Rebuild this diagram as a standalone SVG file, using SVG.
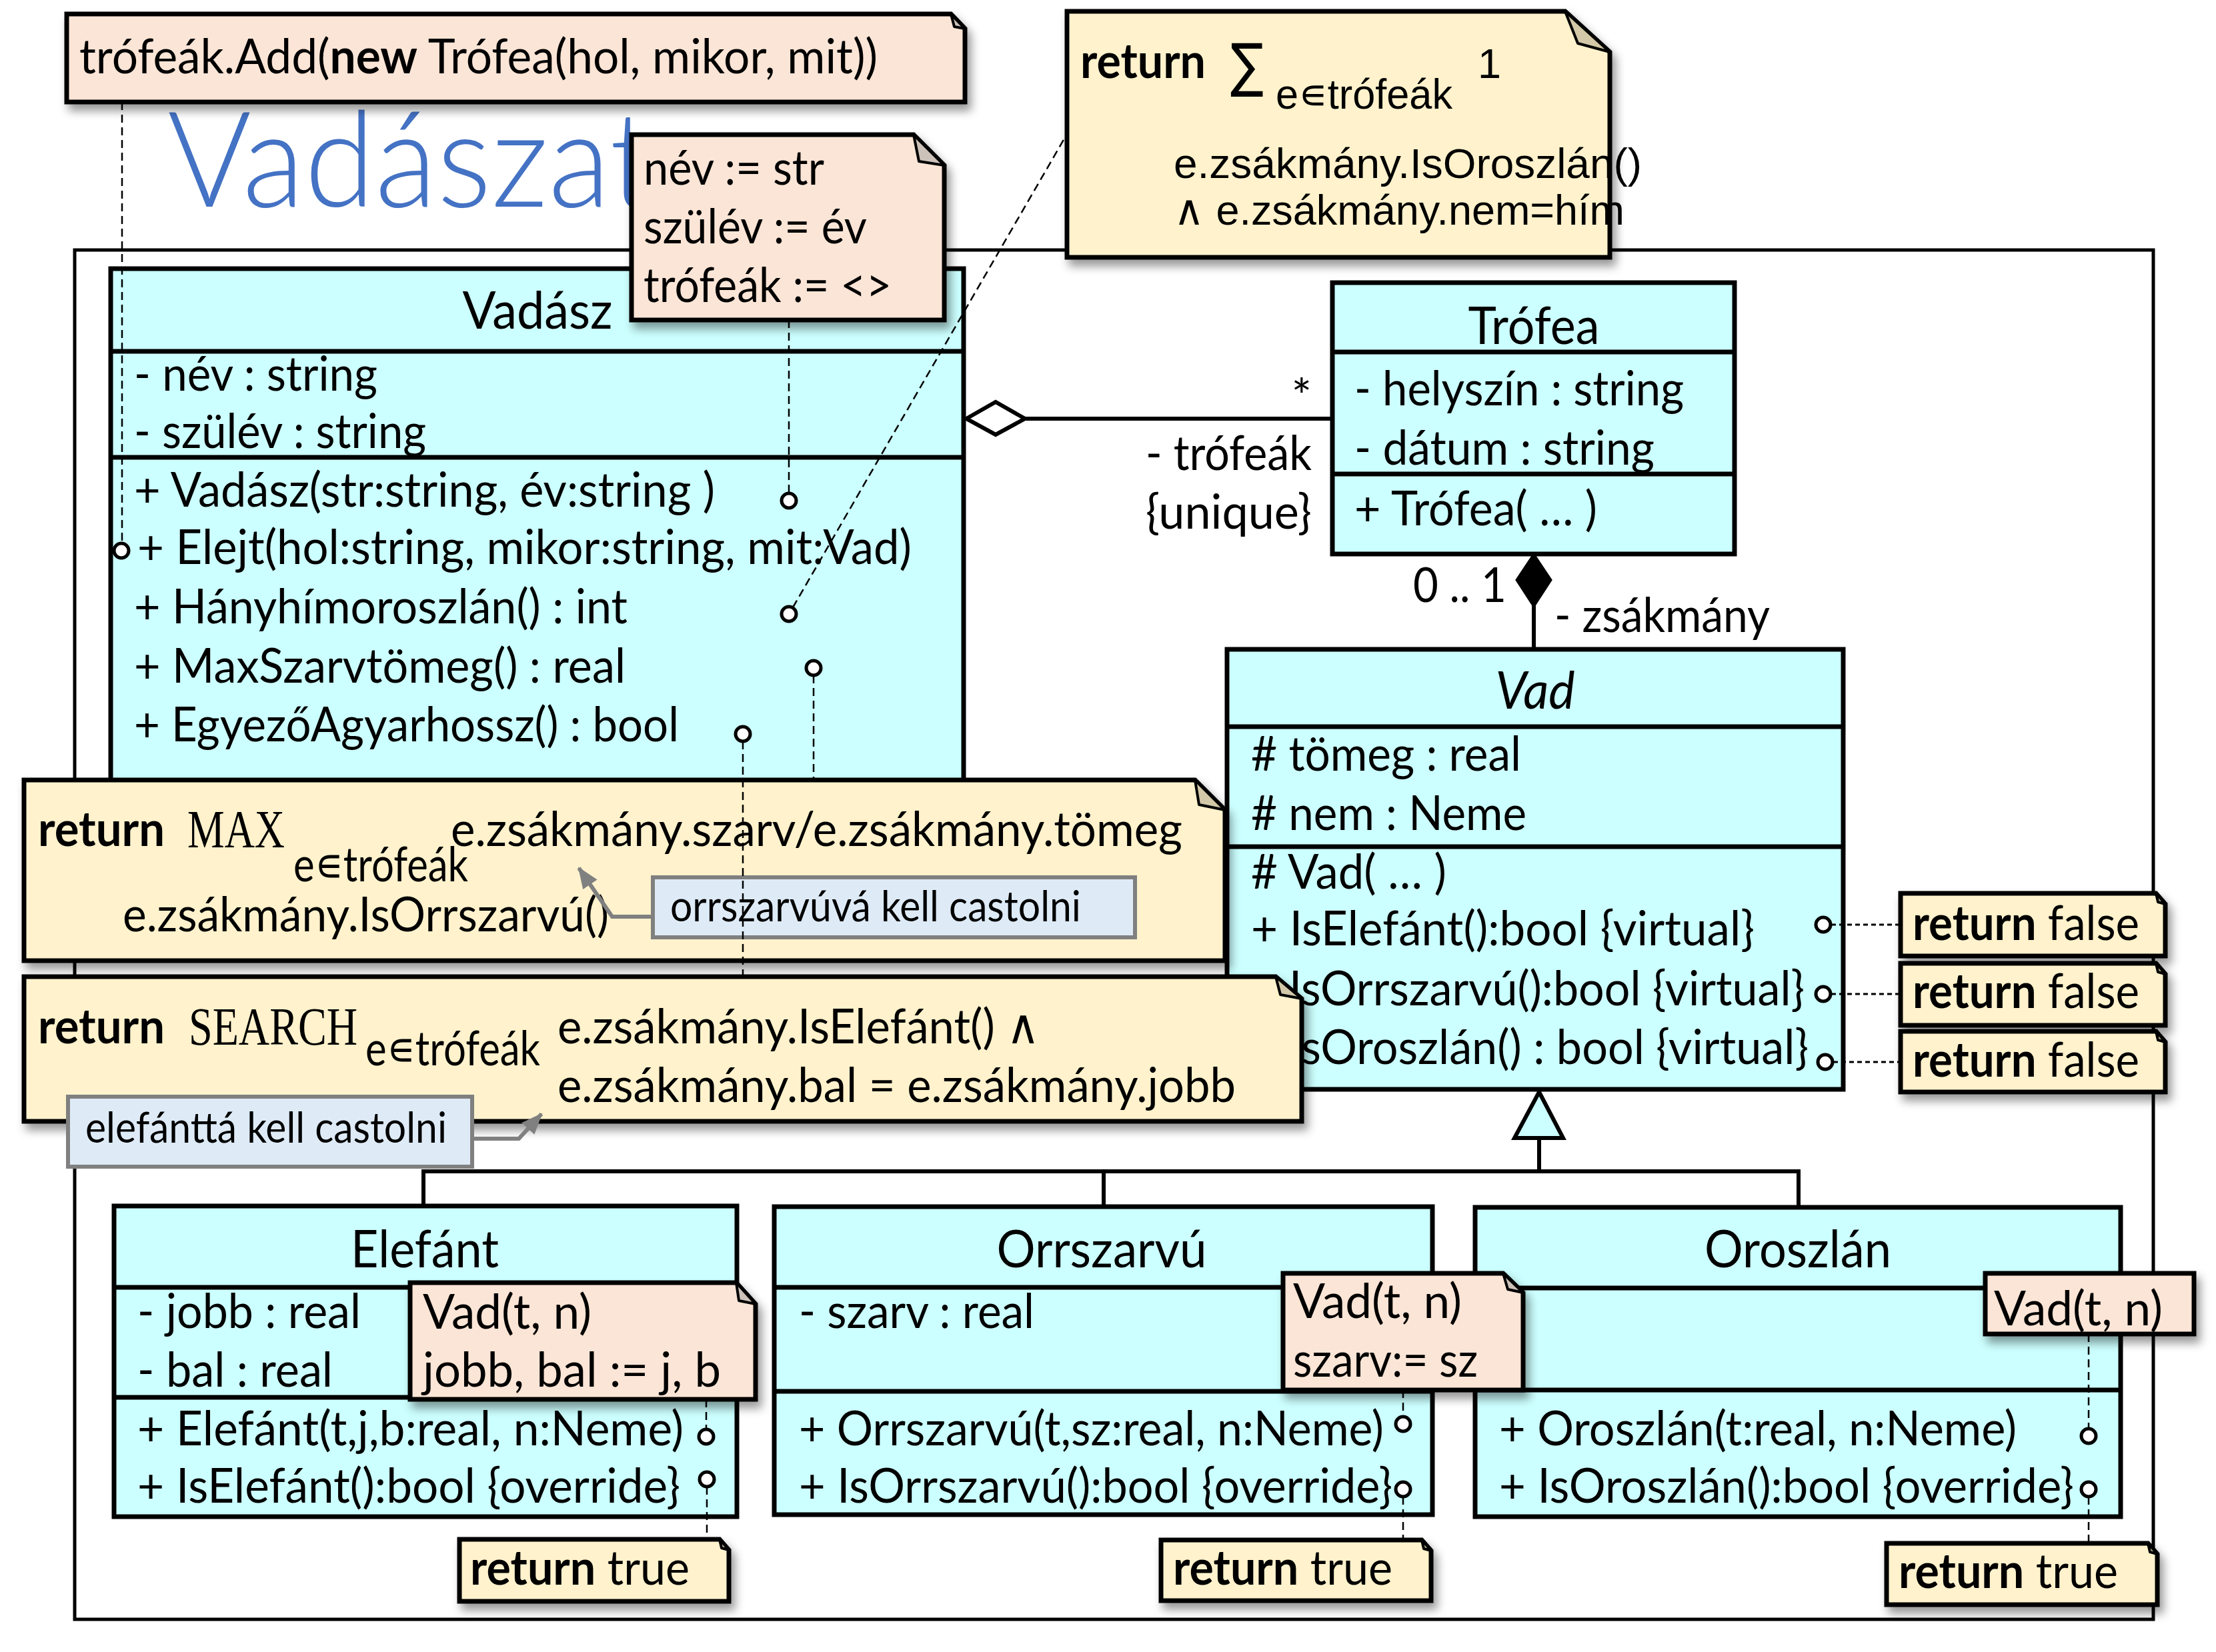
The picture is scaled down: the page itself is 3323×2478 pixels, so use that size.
<svg xmlns="http://www.w3.org/2000/svg" width="3323" height="2478" viewBox="0 0 3323 2478">
<defs>
<style>
.cls{fill:#CCFFFF;stroke:#000;stroke-width:7}
.sep{stroke:#000;stroke-width:7}
.peach{fill:#FBE5D6;stroke:#000;stroke-width:7;stroke-linejoin:miter}
.yel{fill:#FFF2CC;stroke:#000;stroke-width:7;stroke-linejoin:miter}
.foldp{fill:#CDC2BA;stroke:#000;stroke-width:4;stroke-linejoin:round}
.foldy{fill:#D3C8A7;stroke:#000;stroke-width:4;stroke-linejoin:round}
.callout{fill:#DEEBF7;stroke:#808080;stroke-width:6}
.t{font-family:Lato,"Open Sans","Liberation Sans",sans-serif;font-size:72px;fill:#000}
.h{font-family:Lato,"Open Sans","Liberation Sans",sans-serif;font-size:78px;fill:#000}
.c63{font-family:Lato,"Open Sans","Liberation Sans",sans-serif;font-size:63px;fill:#000}
.b{font-weight:bold}
.ar{font-family:"Liberation Sans",Arial,sans-serif;font-size:63px;fill:#000}
.sr{font-family:"Liberation Serif","Times New Roman",serif;font-size:80px;fill:#000}
.dash{fill:none;stroke:#000;stroke-width:2.5;stroke-dasharray:12 7}
.dot{fill:none;stroke:#000;stroke-width:3;stroke-dasharray:7 5}
.pin{fill:#fff;stroke:#000;stroke-width:5}
.ln{fill:none;stroke:#000;stroke-width:6}
.garrow{fill:none;stroke:#808080;stroke-width:6}
.sh{filter:url(#sh)}
</style>
<filter id="sh" x="-10%" y="-10%" width="130%" height="150%">
<feDropShadow dx="6" dy="10" stdDeviation="7" flood-color="#000" flood-opacity="0.4"/>
</filter>
<marker id="ga" markerUnits="userSpaceOnUse" markerWidth="32" markerHeight="26" viewBox="0 0 32 26" refX="30" refY="13" orient="auto">
<path d="M0,0 L32,13 L0,26 Z" fill="#808080"/>
</marker>
</defs>
<rect width="3323" height="2478" fill="#fff"/>

<!-- frame -->
<rect id="frame" x="112" y="375" width="3117" height="2054" fill="none" stroke="#000" stroke-width="5"/>

<text id="title" x="251" y="310" font-family="Lato,'Open Sans','Liberation Sans',sans-serif" font-size="199" font-weight="300" fill="#4472C4" textLength="729" lengthAdjust="spacingAndGlyphs">Vadászat</text>

<!-- classes -->
<g id="class-vadasz">
<rect class="cls" x="166" y="403" width="1279" height="800"/>
<line class="sep" x1="166" y1="527" x2="1445" y2="527"/>
<line class="sep" x1="166" y1="686" x2="1445" y2="686"/>
<text class="h" x="806" y="493" text-anchor="middle" textLength="225" lengthAdjust="spacingAndGlyphs">Vadász</text>
<text class="t" x="201" y="586" textLength="365" lengthAdjust="spacingAndGlyphs">- név : string</text>
<text class="t" x="201" y="672" textLength="438" lengthAdjust="spacingAndGlyphs">- szülév : string</text>
<text class="t" x="201" y="760" textLength="871" lengthAdjust="spacingAndGlyphs">+ Vadász(str:string, év:string )</text>
<text class="t" x="206" y="846" textLength="1161" lengthAdjust="spacingAndGlyphs">+ Elejt(hol:string, mikor:string, mit:Vad)</text>
<text class="t" x="201" y="935" textLength="740" lengthAdjust="spacingAndGlyphs">+ Hányhímoroszlán() : int</text>
<text class="t" x="201" y="1024" textLength="737" lengthAdjust="spacingAndGlyphs">+ MaxSzarvtömeg() : real</text>
<text class="t" x="201" y="1112" textLength="817" lengthAdjust="spacingAndGlyphs">+ EgyezőAgyarhossz() : bool</text>
</g>

<g id="class-trofea">
<rect class="cls" x="1998" y="424" width="603" height="407"/>
<line class="sep" x1="1998" y1="528" x2="2601" y2="528"/>
<line class="sep" x1="1998" y1="711" x2="2601" y2="711"/>
<text class="h" x="2300" y="516" text-anchor="middle" textLength="197" lengthAdjust="spacingAndGlyphs">Trófea</text>
<text class="t" x="2031" y="608" textLength="494" lengthAdjust="spacingAndGlyphs">- helyszín : string</text>
<text class="t" x="2031" y="697" textLength="450" lengthAdjust="spacingAndGlyphs">- dátum : string</text>
<text class="t" x="2031" y="788" textLength="364" lengthAdjust="spacingAndGlyphs">+ Trófea( … )</text>
</g>

<g id="class-vad">
<rect class="cls" x="1840" y="974" width="924" height="660"/>
<line class="sep" x1="1840" y1="1090" x2="2764" y2="1090"/>
<line class="sep" x1="1840" y1="1270" x2="2764" y2="1270"/>
<text class="h" x="2302" y="1063" text-anchor="middle" font-style="italic" textLength="119" lengthAdjust="spacingAndGlyphs">Vad</text>
<text class="t" x="1876" y="1156" textLength="405" lengthAdjust="spacingAndGlyphs"># tömeg : real</text>
<text class="t" x="1876" y="1245" textLength="413" lengthAdjust="spacingAndGlyphs"># nem : Neme</text>
<text class="t" x="1876" y="1333" textLength="293" lengthAdjust="spacingAndGlyphs"># Vad( … )</text>
<text class="t" x="1876" y="1418" textLength="755" lengthAdjust="spacingAndGlyphs">+ IsElefánt():bool {virtual}</text>
<text class="t" x="1876" y="1508" textLength="830" lengthAdjust="spacingAndGlyphs">+ IsOrrszarvú():bool {virtual}</text>
<text class="t" x="1876" y="1596" textLength="836" lengthAdjust="spacingAndGlyphs">+ IsOroszlán() : bool {virtual}</text>
</g>

<g id="class-elefant">
<rect class="cls" x="171" y="1809" width="934" height="466"/>
<line class="sep" x1="171" y1="1931" x2="1105" y2="1931"/>
<line class="sep" x1="171" y1="2096" x2="1105" y2="2096"/>
<text class="h" x="637" y="1901" text-anchor="middle" textLength="222" lengthAdjust="spacingAndGlyphs">Elefánt</text>
<text class="t" x="206" y="1992" textLength="335" lengthAdjust="spacingAndGlyphs">- jobb : real</text>
<text class="t" x="206" y="2080" textLength="293" lengthAdjust="spacingAndGlyphs">- bal : real</text>
<text class="t" x="206" y="2168" textLength="819" lengthAdjust="spacingAndGlyphs">+ Elefánt(t,j,b:real, n:Neme)</text>
<text class="t" x="206" y="2254" textLength="814" lengthAdjust="spacingAndGlyphs">+ IsElefánt():bool {override}</text>
</g>

<g id="class-orrszarvu">
<rect class="cls" x="1161" y="1810" width="987" height="462"/>
<line class="sep" x1="1161" y1="1931" x2="2148" y2="1931"/>
<line class="sep" x1="1161" y1="2087" x2="2148" y2="2087"/>
<text class="h" x="1652" y="1901" text-anchor="middle" textLength="315" lengthAdjust="spacingAndGlyphs">Orrszarvú</text>
<text class="t" x="1198" y="1992" textLength="353" lengthAdjust="spacingAndGlyphs">- szarv : real</text>
<text class="t" x="1198" y="2168" textLength="877" lengthAdjust="spacingAndGlyphs">+ Orrszarvú(t,sz:real, n:Neme)</text>
<text class="t" x="1198" y="2254" textLength="890" lengthAdjust="spacingAndGlyphs">+ IsOrrszarvú():bool {override}</text>
</g>

<g id="class-oroszlan">
<rect class="cls" x="2212" y="1811" width="968" height="464"/>
<line class="sep" x1="2212" y1="1932" x2="3180" y2="1932"/>
<line class="sep" x1="2212" y1="2085" x2="3180" y2="2085"/>
<text class="h" x="2696" y="1901" text-anchor="middle" textLength="280" lengthAdjust="spacingAndGlyphs">Oroszlán</text>
<text class="t" x="2248" y="2168" textLength="776" lengthAdjust="spacingAndGlyphs">+ Oroszlán(t:real, n:Neme)</text>
<text class="t" x="2248" y="2254" textLength="862" lengthAdjust="spacingAndGlyphs">+ IsOroszlán():bool {override}</text>
</g>

<!-- MAX note (below connectors) -->
<g id="note-max">
<path class="yel sh" d="M36,1170 H1792 L1837,1215 V1441 H36 Z"/>
<path class="foldy" d="M1792,1170 L1798,1207 L1837,1215 Z"/>
<text class="t b" x="57" y="1269" textLength="190" lengthAdjust="spacingAndGlyphs">return</text>
<text class="sr" x="281" y="1271" textLength="146" lengthAdjust="spacingAndGlyphs">MAX</text>
<text class="t" x="440" y="1322" textLength="262" lengthAdjust="spacingAndGlyphs">e∊trófeák</text>
<text class="t" x="676" y="1269" textLength="1097" lengthAdjust="spacingAndGlyphs">e.zsákmány.szarv/e.zsákmány.tömeg</text>
<text class="t" x="184" y="1397" textLength="729" lengthAdjust="spacingAndGlyphs">e.zsákmány.IsOrrszarvú()</text>
</g>
<g id="callout-orrszarvu">
<rect class="callout" x="979" y="1316" width="723" height="90"/>
<text class="c63" x="1005" y="1382" textLength="616" lengthAdjust="spacingAndGlyphs">orrszarvúvá kell castolni</text>
<polyline class="garrow" points="979,1375 918,1375 868,1302" marker-end="url(#ga)"/>
</g>

<!-- connectors -->
<g id="connectors">
<line class="ln" x1="1537" y1="628" x2="1998" y2="628"/>
<polygon points="1449,628 1493,603 1537,628 1493,652" fill="#fff" stroke="#000" stroke-width="6"/>
<text class="t" x="1967" y="620" text-anchor="end">*</text>
<text class="t" x="1967" y="705" text-anchor="end" textLength="249" lengthAdjust="spacingAndGlyphs">- trófeák</text>
<text class="t" x="1967" y="793" text-anchor="end" textLength="249" lengthAdjust="spacingAndGlyphs">{unique}</text>

<line class="ln" x1="2300" y1="905" x2="2300" y2="974"/>
<polygon points="2300,831 2326,870 2300,910 2274,870" fill="#000" stroke="#000" stroke-width="3"/>
<text class="t" x="2119" y="903" textLength="140" lengthAdjust="spacingAndGlyphs">0 .. 1</text>
<text class="t" x="2331" y="948" textLength="323" lengthAdjust="spacingAndGlyphs">- zsákmány</text>

<polyline class="ln" points="635,1808 635,1757 2697,1757 2697,1810"/>
<line class="ln" x1="1655" y1="1757" x2="1655" y2="1808"/>
<line class="ln" x1="2308" y1="1707" x2="2308" y2="1757"/>
<polygon points="2308,1638 2344,1707 2271,1707" fill="#CCFFFF" stroke="#000" stroke-width="6"/>

<line class="dash" x1="183" y1="153" x2="183" y2="815"/>
<line class="dash" x1="1183" y1="480" x2="1183" y2="740"/>
<line class="dash" x1="1189" y1="911" x2="1600" y2="201"/>
<line class="dash" x1="1220" y1="1013" x2="1220" y2="1170"/>
<line class="dash" x1="1114" y1="1112" x2="1114" y2="1465"/>
<line class="dot" x1="2746" y1="1387" x2="2850" y2="1387"/>
<line class="dot" x1="2746" y1="1491" x2="2850" y2="1491"/>
<line class="dot" x1="2749" y1="1593" x2="2850" y2="1593"/>
<line class="dash" x1="1059" y1="2099" x2="1059" y2="2143"/>
<line class="dash" x1="1060" y1="2230" x2="1060" y2="2309"/>
<line class="dash" x1="2104" y1="2085" x2="2104" y2="2124"/>
<line class="dash" x1="2104" y1="2245" x2="2104" y2="2310"/>
<line class="dash" x1="3132" y1="2001" x2="3132" y2="2142"/>
<line class="dash" x1="3132" y1="2245" x2="3132" y2="2315"/>

<circle class="pin" cx="182" cy="826" r="11"/>
<circle class="pin" cx="1183" cy="751" r="11"/>
<circle class="pin" cx="1183" cy="921" r="11"/>
<circle class="pin" cx="1220" cy="1002" r="11"/>
<circle class="pin" cx="1114" cy="1101" r="11"/>
<circle class="pin" cx="2734" cy="1387" r="11"/>
<circle class="pin" cx="2734" cy="1491" r="11"/>
<circle class="pin" cx="2737" cy="1593" r="11"/>
<circle class="pin" cx="1059" cy="2155" r="11"/>
<circle class="pin" cx="1060" cy="2219" r="11"/>
<circle class="pin" cx="2104" cy="2136" r="11"/>
<circle class="pin" cx="2104" cy="2234" r="11"/>
<circle class="pin" cx="3132" cy="2154" r="11"/>
<circle class="pin" cx="3132" cy="2234" r="11"/>
</g>

<!-- notes -->
<g id="note-add">
<path class="peach sh" d="M100,21 H1426 L1447,43 V153 H100 Z"/>
<path class="foldp" d="M1426,21 L1431,40 L1447,43 Z"/>
<text class="t" x="119" y="110" textLength="1197" lengthAdjust="spacingAndGlyphs">trófeák.Add(<tspan class="b">new</tspan> Trófea(hol, mikor, mit))</text>
</g>

<g id="note-ctor">
<path class="peach sh" d="M947,202 H1370 L1416,248 V480 H947 Z"/>
<path class="foldp" d="M1370,202 L1378,242 L1416,248 Z"/>
<text class="t" x="965" y="277" textLength="271" lengthAdjust="spacingAndGlyphs">név := str</text>
<text class="t" x="965" y="365" textLength="335" lengthAdjust="spacingAndGlyphs">szülév := év</text>
<text class="t" x="965" y="453" textLength="372" lengthAdjust="spacingAndGlyphs">trófeák := &lt;&gt;</text>
</g>

<g id="note-sum">
<path class="yel sh" d="M1600,17 H2347 L2414,78 V386 H1600 Z"/>
<path class="foldy" d="M2347,17 L2366,65 L2414,78 Z"/>
<text class="t b" x="1620" y="117" textLength="188" lengthAdjust="spacingAndGlyphs">return</text>
<text x="1845" y="128" font-family="'DejaVu Sans',sans-serif" font-size="88" textLength="50" lengthAdjust="spacingAndGlyphs">∑</text>
<text class="ar" x="1913" y="163" font-size="60" textLength="265" lengthAdjust="spacingAndGlyphs">e∊trófeák</text>
<text class="ar" x="2216" y="117" font-size="60">1</text>
<text class="ar" x="1760" y="267" textLength="702" lengthAdjust="spacingAndGlyphs">e.zsákmány.IsOroszlán()</text>
<text class="ar" x="1760" y="337" textLength="676" lengthAdjust="spacingAndGlyphs">∧ e.zsákmány.nem=hím</text>
</g>

<g id="note-search">
<path class="yel sh" d="M36,1465 H1913 L1952,1498 V1682 H36 Z"/>
<path class="foldy" d="M1913,1465 L1920,1492 L1952,1498 Z"/>
<text class="t b" x="57" y="1565" textLength="190" lengthAdjust="spacingAndGlyphs">return</text>
<text class="sr" x="283" y="1567" textLength="253" lengthAdjust="spacingAndGlyphs">SEARCH</text>
<text class="t" x="548" y="1598" textLength="262" lengthAdjust="spacingAndGlyphs">e∊trófeák</text>
<text class="t" x="836" y="1565" textLength="724" lengthAdjust="spacingAndGlyphs">e.zsákmány.IsElefánt() ∧</text>
<text class="t" x="836" y="1653" textLength="1017" lengthAdjust="spacingAndGlyphs">e.zsákmány.bal = e.zsákmány.jobb</text>
</g>
<g id="callout-elefant">
<rect class="callout" x="102" y="1645" width="606" height="105"/>
<text class="c63" x="128" y="1714" textLength="542" lengthAdjust="spacingAndGlyphs">elefánttá kell castolni</text>
<polyline class="garrow" points="708,1708 778,1708 812,1671" marker-end="url(#ga)"/>
</g>

<g id="note-false-1">
<path class="yel sh" d="M2850,1340 H3233 L3247,1356 V1434 H2850 Z"/>
<path class="foldy" d="M3233,1340 L3236,1353 L3247,1356 Z"/>
<text class="t" x="2868" y="1410" textLength="340" lengthAdjust="spacingAndGlyphs"><tspan class="b">return</tspan> false</text>
</g>
<g id="note-false-2">
<path class="yel sh" d="M2850,1445 H3233 L3247,1461 V1538 H2850 Z"/>
<path class="foldy" d="M3233,1445 L3236,1458 L3247,1461 Z"/>
<text class="t" x="2868" y="1512" textLength="340" lengthAdjust="spacingAndGlyphs"><tspan class="b">return</tspan> false</text>
</g>
<g id="note-false-3">
<path class="yel sh" d="M2850,1547 H3233 L3247,1563 V1638 H2850 Z"/>
<path class="foldy" d="M3233,1547 L3236,1560 L3247,1563 Z"/>
<text class="t" x="2868" y="1615" textLength="340" lengthAdjust="spacingAndGlyphs"><tspan class="b">return</tspan> false</text>
</g>

<g id="note-elefant-ctor">
<path class="peach sh" d="M615,1924 H1104 L1133,1956 V2099 H615 Z"/>
<path class="foldp" d="M1104,1924 L1108,1951 L1133,1956 Z"/>
<text class="t" x="634" y="1993" textLength="253" lengthAdjust="spacingAndGlyphs">Vad(t, n)</text>
<text class="t" x="634" y="2080" textLength="447" lengthAdjust="spacingAndGlyphs">jobb, bal := j, b</text>
</g>
<g id="note-elefant-true">
<path class="yel sh" d="M689,2309 H1079 L1093,2325 V2402 H689 Z"/>
<path class="foldy" d="M1079,2309 L1082,2322 L1093,2325 Z"/>
<text class="t" x="705" y="2377" textLength="329" lengthAdjust="spacingAndGlyphs"><tspan class="b">return</tspan> true</text>
</g>

<g id="note-orrszarvu-ctor">
<path class="peach sh" d="M1924,1910 H2254 L2284,1939 V2085 H1924 Z"/>
<path class="foldp" d="M2254,1910 L2261,1934 L2284,1939 Z"/>
<text class="t" x="1939" y="1977" textLength="253" lengthAdjust="spacingAndGlyphs">Vad(t, n)</text>
<text class="t" x="1939" y="2065" textLength="277" lengthAdjust="spacingAndGlyphs">szarv:= sz</text>
</g>
<g id="note-orrszarvu-true">
<path class="yel sh" d="M1741,2310 H2132 L2146,2326 V2401 H1741 Z"/>
<path class="foldy" d="M2132,2310 L2135,2323 L2146,2326 Z"/>
<text class="t" x="1759" y="2377" textLength="329" lengthAdjust="spacingAndGlyphs"><tspan class="b">return</tspan> true</text>
</g>

<g id="note-oroszlan-ctor">
<path class="peach sh" d="M2977,1910 H3290 V2001 H2977 Z"/>
<text class="t" x="2990" y="1988" textLength="253" lengthAdjust="spacingAndGlyphs">Vad(t, n)</text>
</g>
<g id="note-oroszlan-true">
<path class="yel sh" d="M2829,2315 H3221 L3235,2331 V2407 H2829 Z"/>
<path class="foldy" d="M3221,2315 L3224,2328 L3235,2331 Z"/>
<text class="t" x="2847" y="2382" textLength="329" lengthAdjust="spacingAndGlyphs"><tspan class="b">return</tspan> true</text>
</g>
</svg>
